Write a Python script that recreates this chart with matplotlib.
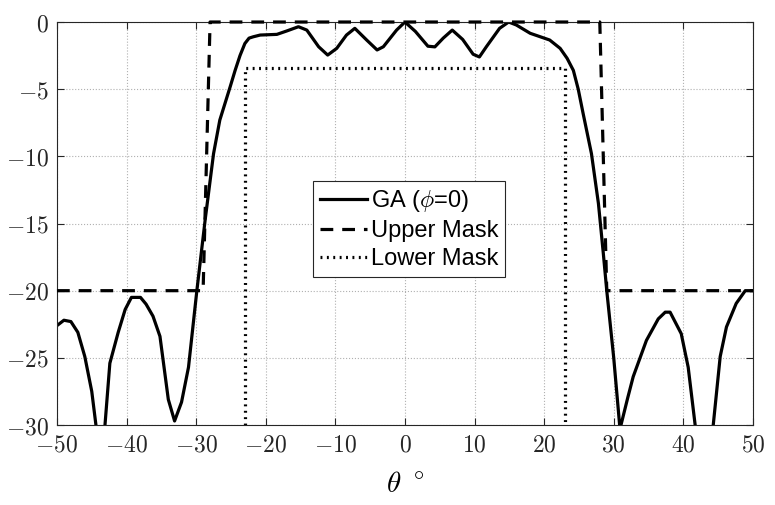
import numpy as np
import matplotlib
matplotlib.use('Agg')
import matplotlib.pyplot as plt

# GA pattern (dB)
theta = [-50, -49, -48, -47, -46, -45, -44.4, -43.8, -43.1, -42.4, -41.2, -40.2, -39.3,
         -38, -37.2, -36.2, -35.2, -34, -33.1, -32.1, -31.1, -29.9, -28.7, -27.5, -26.6,
         -25.1, -24.4, -23.7, -23.0, -22.4, -21.8, -20.8, -18.4, -17, -15.3, -14.1, -12.4, -11.1, -9.8,
         -8.4, -7.2, -5.5, -4.0, -3.1, -1.2, 0, 1.5, 3.3, 4.3, 5.5, 6.8, 8.3, 9.8, 10.7,
         11.7, 13.6, 14.9, 16.0, 18.0, 19.4, 20.8, 22.3, 23.3, 24.2, 24.9, 25.6, 26.8, 27.8,
         28.5, 29.0, 30.0, 30.9, 32.0, 32.8, 34.7, 36.4, 37.4, 38.1, 39.7, 40.7, 41.7,
         43.0, 44.3, 45.3, 46.2, 47.6, 48.9, 50]
gain = [-22.6, -22.2, -22.3, -23.1, -24.9, -27.5, -30, -32.5, -30, -25.4, -23.1, -21.4, -20.5,
        -20.5, -21.0, -21.9, -23.4, -28.1, -29.7, -28.3, -25.7, -20.0, -14.7, -9.8, -7.3,
        -4.8, -3.6, -2.5, -1.6, -1.2, -1.1, -0.97, -0.92, -0.67, -0.35, -0.6, -1.84, -2.46, -1.96,
        -0.97, -0.47, -1.34, -2.08, -1.84, -0.6, 0, -0.7, -1.8, -1.85, -1.2, -0.6, -1.3, -2.4, -2.6,
        -1.84, -0.47, 0, -0.22, -0.84, -1.09, -1.34, -1.96, -2.7, -3.6, -5.0, -6.8, -9.8, -13.5,
        -17.2, -20.0, -25.0, -30.3, -28.0, -26.4, -23.7, -22.1, -21.6, -21.6, -23.2, -25.7, -30,
        -34, -30, -24.9, -22.7, -20.95, -20.0, -20.0]

upper_theta = [-50, -29, -28, 28, 29, 50]
upper_gain = [-20, -20, 0, 0, -20, -20]
lower_theta = [-23, -23, 23, 23]
lower_gain = [-30, -3.4, -3.4, -30]

plt.rcParams['mathtext.fontset'] = 'cm'
plt.rcParams['font.family'] = 'serif'
plt.rcParams['font.serif'] = ['DejaVu Serif']

fig = plt.figure(figsize=(7.75, 5.05), dpi=100)
ax = fig.add_axes([0.0735, 0.1584, 0.898, 0.798])

ax.plot(theta, gain, 'k-', lw=2.3, label=r'GA ($\phi$=0)')
ax.plot(upper_theta, upper_gain, 'k', ls=(0, (4, 2.8)), lw=2.3, label='Upper Mask',
        clip_on=False, zorder=3)
ax.plot(lower_theta, lower_gain, 'k', ls=(0, (0.6, 1.4)), lw=2.3, label='Lower Mask')

ax.set_xlim(-50, 50)
ax.set_ylim(-30, 0)
ax.set_xticks(np.arange(-50, 51, 10))
ax.set_yticks(np.arange(-30, 1, 5))
ax.set_xticklabels([r'$%d$' % v for v in np.arange(-50, 51, 10)])
ax.set_yticklabels([r'$%d$' % v for v in np.arange(-30, 1, 5)])
ax.tick_params(direction='in', length=5, width=0.8, labelsize=17, colors='#262626',
               top=True, right=True, pad=6)
ax.grid(True, ls=':', color='#b0b0b0', lw=0.8)
for s in ax.spines.values():
    s.set_color('#262626')
    s.set_linewidth(0.8)
ax.set_xlabel(r'$\theta\ ^\circ$', fontsize=21, labelpad=10)

leg = ax.legend(loc='center', bbox_to_anchor=(0.506, 0.486), prop={'family': 'Liberation Sans', 'size': 17},
                frameon=True, fancybox=False, handlelength=2.0, handletextpad=0.15,
                borderpad=0.3, labelspacing=0.25, borderaxespad=0)
leg.set_zorder(5)
leg.get_frame().set_edgecolor('#262626')
leg.get_frame().set_linewidth(0.8)
leg.get_frame().set_alpha(1)

fig.savefig('out.png', dpi=100)
